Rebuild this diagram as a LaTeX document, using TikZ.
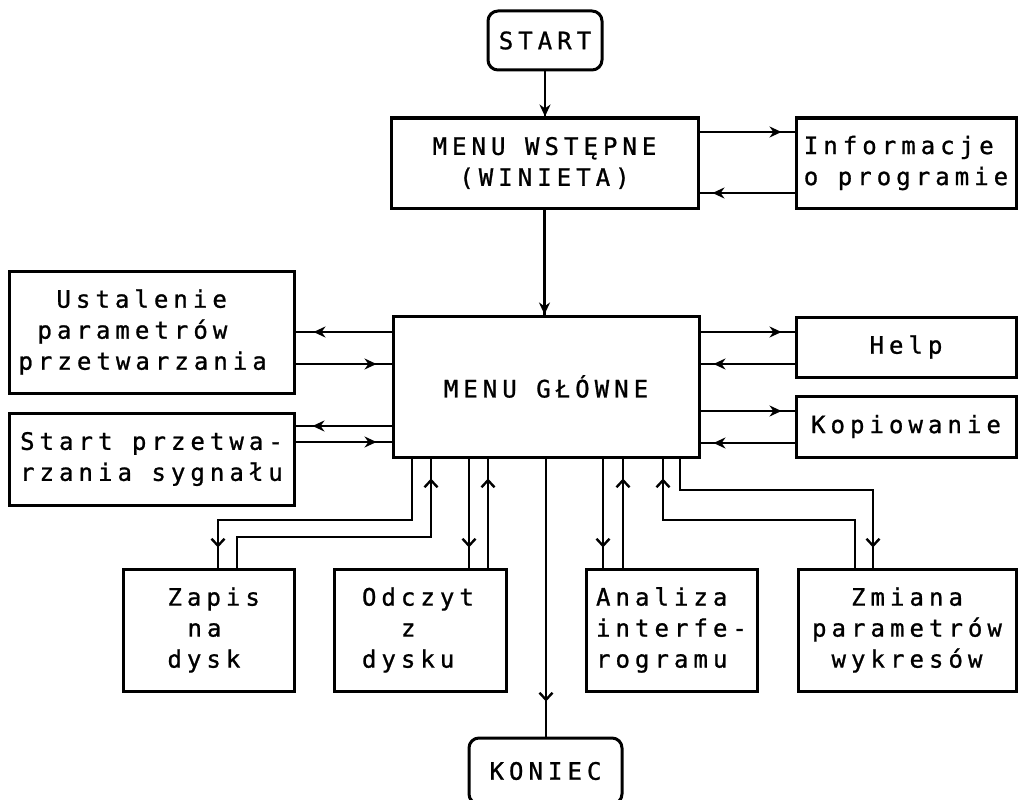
\documentclass[tikz,border=0pt]{standalone}
\usepackage{fontspec}
\newfontfamily\dm[LetterSpace=21,FakeBold=1]{DejaVu Sans Mono}
\usetikzlibrary{arrows.meta,decorations.markings}
\begin{document}
\begin{tikzpicture}[x=1pt,y=-1pt,
  box/.style={draw,line width=3pt,inner sep=0pt,font=\dm\fontsize{24}{31}\selectfont,align=center},
  rbox/.style={box,rounded corners=10pt},
  wire/.style={line width=2.8pt},
  tipat/.style={decoration={markings,mark=at position #1 with {\arrow{Stealth[length=12pt,width=11pt]}}},postaction={decorate}},
  barbat/.style={decoration={markings,mark=at position #1 with {\arrow[line width=2.4pt]{Straight Barb[length=7pt,width=13pt]}}},postaction={decorate}},
]
\useasboundingbox (0,0) rectangle (1021,800);
\clip (0,0) rectangle (1021,800);
\fill[white] (0,0) rectangle (1021,800);

% nodes
\node[rbox,minimum width=114pt,minimum height=59pt] (start) at (545,40.5) {START};
\node[box,minimum width=307pt,minimum height=90pt] (wst) at (544.5,163) {MENU WSTĘPNE\\(WINIETA)};
\node[box,minimum width=220pt,minimum height=90pt,align=left] (info) at (906,163) {Informacje\\o programie};
\node[box,minimum width=306pt,minimum height=141pt] (glowne) at (546,386.5) {MENU GŁÓWNE};
\node[box,minimum width=285pt,minimum height=122pt,text width=266pt,align=left] (ust) at (151.5,332) {\hspace*{38pt}Ustalenie\\\hspace*{19pt}parametrów\\przetwarzania};
\node[box,minimum width=285pt,minimum height=92pt] (startp) at (151.5,459) {Start przetwa-\\rzania sygnału};
\node[box,minimum width=220pt,minimum height=60pt] (help) at (906,347) {Help};
\node[box,minimum width=220pt,minimum height=61pt] (kopi) at (906,426.5) {Kopiowanie};
\node[box,minimum width=171pt,minimum height=122pt,text width=82pt,align=left] (zapis) at (208.5,630) {Zapis\\\hspace*{20pt}na\\dysk};
\node[box,minimum width=172pt,minimum height=122pt,text width=116pt,align=left] (odczyt) at (420,630) {Odczyt\\\hspace*{39pt}z\\dysku};
\node[box,minimum width=171pt,minimum height=122pt,align=left] (analiza) at (671.5,630) {Analiza\\interfe-\\rogramu};
\node[box,minimum width=218pt,minimum height=122pt] (zmiana) at (907,630) {Zmiana\\parametrów\\wykresów};
\node[rbox,minimum width=153pt,minimum height=66pt] (koniec) at (545.5,771) {KONIEC};

% vertical main flow
\draw[wire,tipat=1] (start.south) -- (start.south |- wst.north);
\draw[wire,tipat=1] (wst.south) -- (wst.south |- glowne.north);

% Informacje
\draw[wire,tipat=-13pt] (wst.east |- 0,132) -- (info.west |- 0,132);
\draw[wire,tipat=-13pt] (info.west |- 0,193) -- (wst.east |- 0,193);
% Help
\draw[wire,tipat=-13pt] (glowne.east |- 0,332) -- (help.west |- 0,332);
\draw[wire,tipat=-13pt] (help.west |- 0,364) -- (glowne.east |- 0,364);
% Kopiowanie
\draw[wire,tipat=-13pt] (glowne.east |- 0,411) -- (kopi.west |- 0,411);
\draw[wire,tipat=-13pt] (kopi.west |- 0,443) -- (glowne.east |- 0,443);
% Ustalenie
\draw[wire,tipat=-18pt] (glowne.west |- 0,332) -- (ust.east |- 0,332);
\draw[wire,tipat=-15pt] (ust.east |- 0,364) -- (glowne.west |- 0,364);
% Start przetwarzania
\draw[wire,tipat=-17pt] (glowne.west |- 0,426) -- (startp.east |- 0,426);
\draw[wire,tipat=-15pt] (startp.east |- 0,442) -- (glowne.west |- 0,442);

% Zapis
\draw[wire,barbat=-20pt] (412,0 |- glowne.south) |- (218,520) -- (218,0 |- zapis.north);
\draw[wire,barbat=-20pt] (237,0 |- zapis.north) |- (431,537) -- (431,0 |- glowne.south);
% Odczyt
\draw[wire,barbat=-20pt] (469,0 |- glowne.south) -- (469,0 |- odczyt.north);
\draw[wire,barbat=-20pt] (488,0 |- odczyt.north) -- (488,0 |- glowne.south);
% Koniec
\draw[wire,barbat=-35pt] (546,0 |- glowne.south) -- (546,0 |- koniec.north);
% Analiza
\draw[wire,barbat=-20pt] (603,0 |- glowne.south) -- (603,0 |- analiza.north);
\draw[wire,barbat=-20pt] (623,0 |- analiza.north) -- (623,0 |- glowne.south);
% Zmiana
\draw[wire,barbat=-20pt] (855,0 |- zmiana.north) |- (663,520) -- (663,0 |- glowne.south);
\draw[wire,barbat=-20pt] (680,0 |- glowne.south) |- (873,490) -- (873,0 |- zmiana.north);
\end{tikzpicture}
\end{document}
